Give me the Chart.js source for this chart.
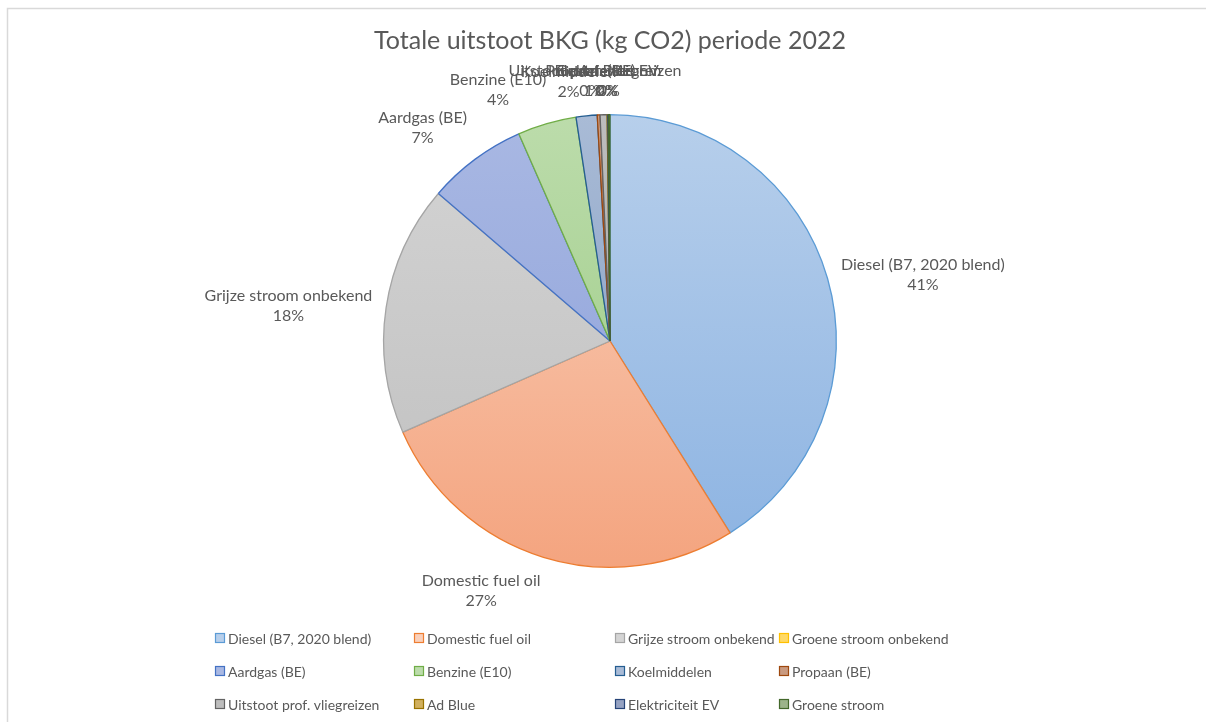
<!DOCTYPE html>
<html>
<head>
<meta charset="utf-8">
<title>Totale uitstoot BKG 2022</title>
<script src="https://cdn.jsdelivr.net/npm/chart.js@4.4.1/dist/chart.umd.min.js"></script>
<style>
    html, body { margin: 0; padding: 0; background: #ffffff; }
    #wrap { position: relative; width: 1206px; height: 722px; }
</style>
</head>
<body>
<div id="wrap"><canvas id="pieChart" width="1206" height="722"></canvas></div>
<script>
// Data (shares in %)
const chartTitle = 'Totale uitstoot BKG (kg CO2) periode 2022';
const categories = [
    'Diesel (B7, 2020 blend)', 'Domestic fuel oil', 'Grijze stroom onbekend', 'Groene stroom onbekend',
    'Aardgas (BE)', 'Benzine (E10)', 'Koelmiddelen', 'Propaan (BE)',
    'Uitstoot prof. vliegreizen', 'Ad Blue', 'Elektriciteit EV', 'Groene stroom'
];
const values = [41.1, 27.3, 17.9, 0, 7.1, 4.2, 1.5, 0.2, 0.5, 0.05, 0.05, 0.1];

// Styles
const borderColors = ['#5b9bd5', '#ed7d31', '#a5a5a5', '#ffc000', '#4472c4', '#70ad47',
                      '#255e91', '#9e480e', '#636363', '#997300', '#264478', '#43682b'];
const fillTop = ['#b7cfeb', '#f9d0bb', '#d4d4d4', '#ffd966', '#a9b8e3', '#bcdcab',
                 '#a9bbd6', '#c99a80', '#bdbdbd', '#d1b05e', '#95a2c2', '#9cb48a'];
const fillBottom = ['#8cb3e2', '#f4a47f', '#bfbfbf', '#ffc000', '#8a9fd9', '#98c981',
                    '#7f99c0', '#b5754f', '#a2a2a2', '#b98d2a', '#6f80aa', '#789c63'];
const textColor = '#595959';
const fontFamily = 'Lato, "Open Sans", sans-serif';

// Legend grid (Excel style columns)
const legendCols = [215, 414, 615, 779];
const legendRows = [638, 671, 704];

function gradientFill(context) {
    const chart = context.chart;
    const i = context.dataIndex;
    const area = chart.chartArea;
    if (!area) return fillBottom[i];
    const g = chart.ctx.createLinearGradient(0, area.top, 0, area.bottom);
    g.addColorStop(0, fillTop[i]);
    g.addColorStop(1, fillBottom[i]);
    return g;
}

const decorPlugin = {
    id: 'decor',
    beforeDraw(chart) {
        const ctx = chart.ctx;
        ctx.save();
        ctx.strokeStyle = '#d9d9d9';
        ctx.lineWidth = 1.5;
        ctx.beginPath();
        ctx.moveTo(7.5, chart.height + 2);
        ctx.lineTo(7.5, 8.5);
        ctx.lineTo(chart.width + 2, 8.5);
        ctx.stroke();
        ctx.restore();
    },
    afterDatasetsDraw(chart) {
        // outside-end data labels: name + percentage
        const ctx = chart.ctx;
        const meta = chart.getDatasetMeta(0);
        const total = values.reduce((a, b) => a + b, 0);
        const lh = 20;
        ctx.save();
        ctx.font = '16px ' + fontFamily;
        ctx.fillStyle = textColor;
        ctx.textAlign = 'center';
        ctx.textBaseline = 'middle';
        meta.data.forEach((arc, i) => {
            if (!values[i]) return;
            const p = arc.getProps(['x', 'y', 'startAngle', 'endAngle', 'outerRadius'], true);
            const mid = (p.startAngle + p.endAngle) / 2;
            const dx = Math.cos(mid), dy = Math.sin(mid);
            const ax = p.x + dx * (p.outerRadius + 14);
            const ay = p.y + dy * (p.outerRadius + 14);
            const lines = [categories[i], Math.round(values[i] / total * 100) + '%'];
            const w = Math.max(...lines.map(t => ctx.measureText(t).width));
            const h = lh * lines.length;
            const sx = Math.max(-1, Math.min(1, dx / 0.3));
            const cx = ax + sx * w / 2;
            const top = Math.abs(dy) < 0.3 ? ay - h / 2 : (dy > 0 ? ay : ay - h);
            lines.forEach((t, k) => ctx.fillText(t, cx, top + lh * (k + 0.5)));
        });
        ctx.restore();
    },
    afterDraw(chart) {
        const ctx = chart.ctx;
        ctx.save();
        // title
        ctx.font = '25px ' + fontFamily;
        ctx.fillStyle = textColor;
        ctx.textAlign = 'center';
        ctx.textBaseline = 'middle';
        ctx.fillText(chartTitle, 610, 41);
        // legend
        ctx.font = '14px ' + fontFamily;
        ctx.textAlign = 'left';
        categories.forEach((name, i) => {
            const x = legendCols[i % 4];
            const y = legendRows[Math.floor(i / 4)];
            ctx.fillStyle = fillTop[i];
            ctx.fillRect(x, y - 5, 10, 10);
            ctx.strokeStyle = borderColors[i];
            ctx.lineWidth = 1.2;
            ctx.strokeRect(x + 0.5, y - 4.5, 9, 9);
            ctx.fillStyle = textColor;
            ctx.fillText(name, x + 13, y + 1);
        });
        ctx.restore();
    }
};

document.addEventListener('DOMContentLoaded', function() {
    const pieCtx = document.getElementById('pieChart').getContext('2d');
    const pieChart = new Chart(pieCtx, {
        type: 'pie',
        data: {
            labels: categories,
            datasets: [{
                data: values,
                backgroundColor: gradientFill,
                borderColor: borderColors,
                borderWidth: 1.3
            }]
        },
        options: {
            responsive: false,
            animation: false,
            layout: {
                padding: { left: 383, right: 369, top: 114, bottom: 154 }
            },
            plugins: {
                legend: { display: false },
                title: { display: false },
                tooltip: { enabled: false }
            }
        },
        plugins: [decorPlugin]
    });
});
</script>
</body>
</html>
